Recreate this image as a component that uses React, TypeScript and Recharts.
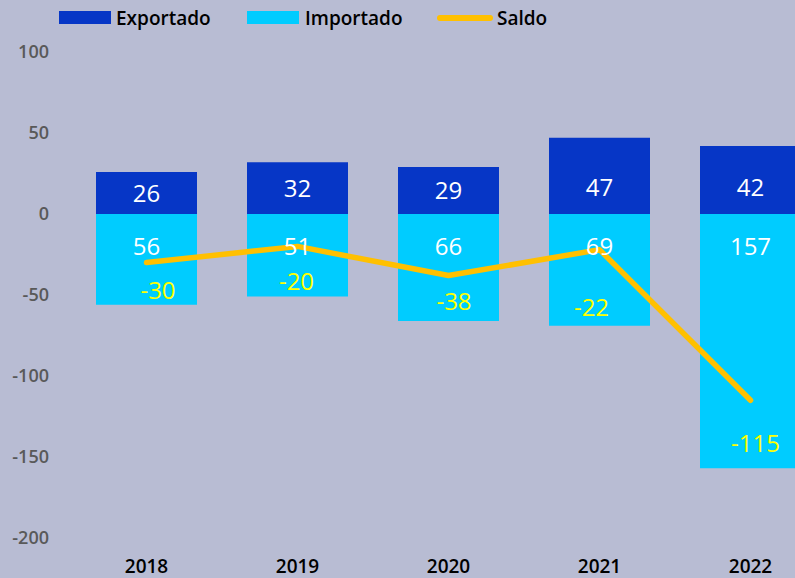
import {
  ComposedChart,
  Bar,
  Line,
  XAxis,
  YAxis,
  LabelList,
} from "recharts";

const years = ["2018", "2019", "2020", "2021", "2022"];
const exportado = [26, 32, 29, 47, 42];
const importado = [-56, -51, -66, -69, -157];
const saldo = [-30, -20, -38, -22, -115];
const yTicks = [-200, -150, -100, -50, 0, 50, 100];

// manual nudges of the saldo labels, as placed in the original
const saldoLabelDx = [11.5, -1, 5.5, -8, 5];
const saldoLabelDy = [27.5, 35, 26, 58, 43.5];

const data = years.map((year, i) => ({
  year,
  exportado: exportado[i],
  importado: importado[i],
  saldo: saldo[i],
}));

const FONT = "'Open Sans', 'Noto Sans', sans-serif";
const BG = "#b8bcd3";
const EXP = "#0636c6";
const IMP = "#00ccff";
const SALDO = "#ffc000";

const ExportLabel = (props: any) => {
  const { x, y, width, height, value } = props;
  const top = Math.min(y, y + height);
  const bottom = Math.max(y, y + height);
  const cy = Math.max((top + bottom) / 2, bottom - 27);
  return (
    <text
      x={x + width / 2}
      y={cy}
      dy="0.36em"
      textAnchor="middle"
      fill="#ffffff"
      fontSize={24}
      fontFamily={FONT}
    >
      {value}
    </text>
  );
};

const ImportLabel = (props: any) => {
  const { x, y, width, height, value } = props;
  const top = Math.min(y, y + height);
  return (
    <text
      x={x + width / 2}
      y={top + 32.5}
      dy="0.36em"
      textAnchor="middle"
      fill="#ffffff"
      fontSize={24}
      fontFamily={FONT}
    >
      {Math.abs(value)}
    </text>
  );
};

const SaldoLabel = (props: any) => {
  const { x, y, value, index } = props;
  return (
    <text
      x={x + saldoLabelDx[index]}
      y={y + saldoLabelDy[index]}
      dy="0.36em"
      textAnchor="middle"
      fill="#ffff00"
      fontSize={24}
      fontFamily={FONT}
    >
      {value}
    </text>
  );
};

function ChartLegend() {
  const text = {
    fontFamily: FONT,
    fontSize: 19,
    fontWeight: 600,
    color: "#000",
    lineHeight: "20px",
  };
  return (
    <div style={{ position: "absolute", left: 0, top: 8, height: 20, width: 795 }}>
      <div style={{ position: "absolute", left: 59, top: 3, width: 52, height: 13, background: EXP }} />
      <span style={{ ...text, position: "absolute", left: 116, top: 0 }}>Exportado</span>
      <div style={{ position: "absolute", left: 247, top: 3, width: 52, height: 13, background: IMP }} />
      <span style={{ ...text, position: "absolute", left: 305, top: 0 }}>Importado</span>
      <div
        style={{
          position: "absolute",
          left: 437,
          top: 7,
          width: 56,
          height: 6,
          borderRadius: 3,
          background: SALDO,
        }}
      />
      <span style={{ ...text, position: "absolute", left: 497, top: 0 }}>Saldo</span>
    </div>
  );
}

export default function App() {
  return (
    <div
      style={{
        position: "fixed",
        left: 0,
        top: 0,
        width: 795,
        height: 578,
        overflow: "hidden",
        background: BG,
      }}
    >
      <ChartLegend />
      <ComposedChart
        width={840}
        height={578}
        data={data}
        stackOffset="sign"
        margin={{ top: 52, right: 14, bottom: 0, left: 0 }}
      >
        <XAxis
          dataKey="year"
          height={40}
          axisLine={false}
          tickLine={false}
          tickSize={0}
          tickMargin={22}
          tick={{ fill: "#000", fontSize: 19, fontWeight: 600, fontFamily: FONT }}
        />
        <YAxis
          width={71}
          domain={[-200, 100]}
          ticks={yTicks}
          axisLine={false}
          tickLine={false}
          tickSize={0}
          tickMargin={22}
          tick={{ fill: "#595959", fontSize: 18, fontWeight: 600, fontFamily: FONT }}
        />
        <Bar dataKey="exportado" stackId="a" fill={EXP} barSize={101} isAnimationActive={false}>
          <LabelList dataKey="exportado" content={ExportLabel} />
        </Bar>
        <Bar dataKey="importado" stackId="a" fill={IMP} barSize={101} isAnimationActive={false}>
          <LabelList dataKey="importado" content={ImportLabel} />
        </Bar>
        <Line
          type="linear"
          dataKey="saldo"
          stroke={SALDO}
          strokeWidth={5.5}
          strokeLinecap="round"
          strokeLinejoin="round"
          dot={false}
          activeDot={false}
          isAnimationActive={false}
        >
          <LabelList dataKey="saldo" content={SaldoLabel} />
        </Line>
      </ComposedChart>
    </div>
  );
}
